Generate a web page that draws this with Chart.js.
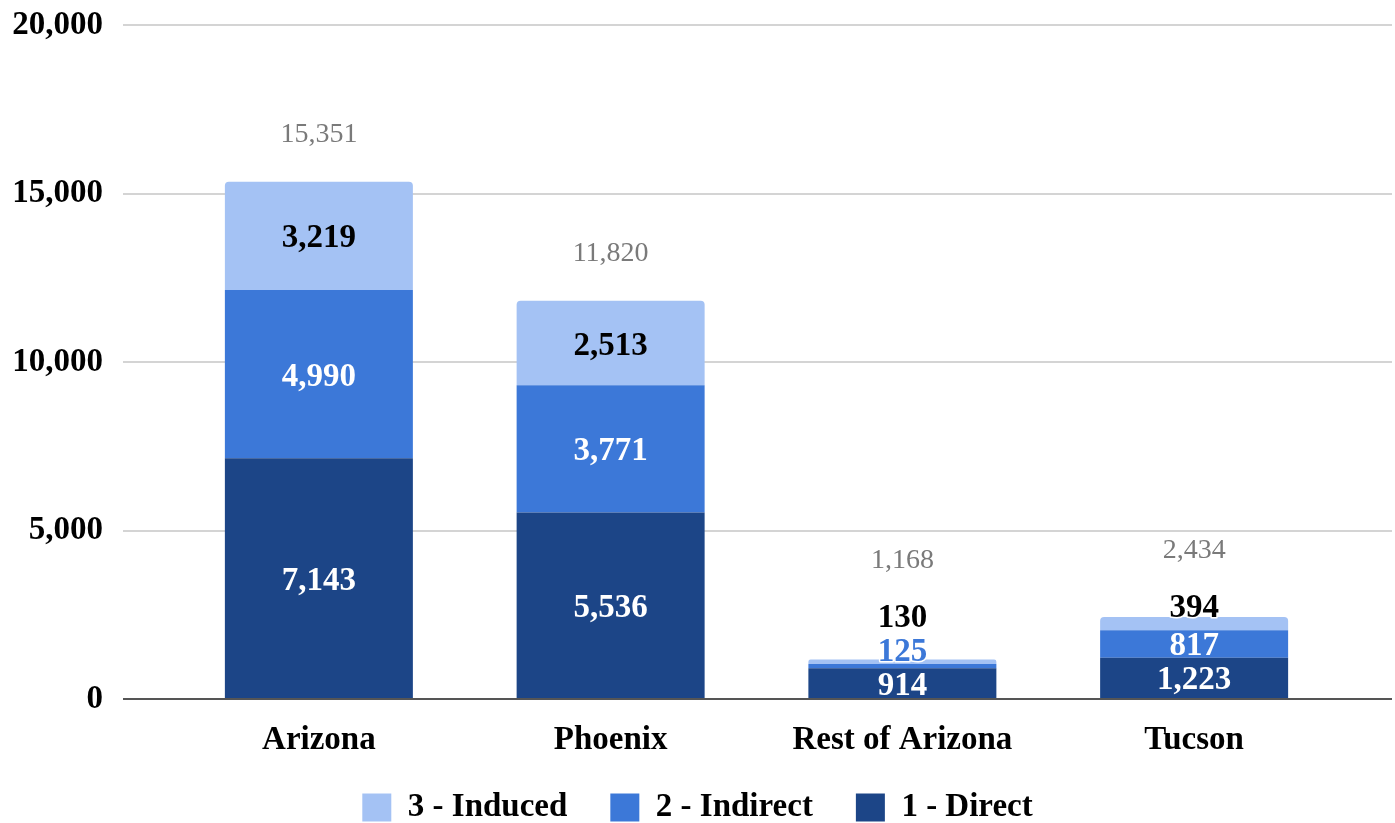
<!DOCTYPE html>
<html>
<head>
<meta charset="utf-8">
<script src="https://cdn.jsdelivr.net/npm/chart.js@4.4.1/dist/chart.umd.min.js"></script>
<style>
html,body{margin:0;padding:0;background:#fff;}
#wrap{width:1395px;height:823px;position:relative;}
</style>
</head>
<body>
<div id="wrap"><canvas id="c"></canvas></div>
<script>
const categories = ['Arizona', 'Phoenix', 'Rest of Arizona', 'Tucson'];
const direct   = [7143, 5536, 914, 1223];
const indirect = [4990, 3771, 125, 817];
const induced  = [3219, 2513, 130, 394];
const totals   = [15351, 11820, 1168, 2434];
const seriesNames = ['1 - Direct', '2 - Indirect', '3 - Induced'];
const yTicks = [0, 5000, 10000, 15000, 20000];

const FONT = "'Liberation Serif', 'Times New Roman', serif";
const COLORS = ['#1c4587', '#3c78d8', '#a4c2f4'];
const LABEL_COLORS = ['#ffffff', '#ffffff', '#000000'];
const fmt = v => v.toLocaleString('en-US');

const gridColor = ctx => (ctx.tick && ctx.tick.value === 0) ? '#555555' : '#d4d4d4';

const labelPlugin = {
  id: 'segLabels',
  afterDatasetsDraw(chart) {
    const ctx = chart.ctx;
    const nDs = chart.data.datasets.length;
    const gap = 34;
    const shift = 3;
    ctx.save();
    ctx.textAlign = 'center';
    ctx.textBaseline = 'middle';
    chart.data.labels.forEach((lab, i) => {
      let prevY = Infinity;
      let barTop = Infinity;
      for (let d = 0; d < nDs; d++) {
        const el = chart.getDatasetMeta(d).data[i];
        const h = Math.abs(el.base - el.y);
        barTop = Math.min(barTop, el.y);
        let y = (el.y + el.base) / 2;
        if (d === nDs - 1 && h < 24) y = Math.min(y, el.y - 12);
        y = Math.min(y, prevY - gap);
        const displaced = Math.abs(y - (el.y + el.base) / 2) > 6;
        let color = LABEL_COLORS[d];
        if (displaced && d < nDs - 1) color = COLORS[d];
        ctx.font = 'bold 33px ' + FONT;
        const txt = fmt(chart.data.datasets[d].data[i]);
        if (h < 40 && color !== '#ffffff') {
          ctx.lineWidth = 3;
          ctx.strokeStyle = '#ffffff';
          ctx.lineJoin = 'round';
          ctx.strokeText(txt, el.x, y + shift);
        }
        ctx.fillStyle = color;
        ctx.fillText(txt, el.x, y + shift);
        prevY = y;
      }
      const x = chart.getDatasetMeta(0).data[i].x;
      const ty = Math.min(barTop - 47, prevY - 54);
      ctx.font = '28px ' + FONT;
      ctx.fillStyle = '#7a7a7a';
      ctx.fillText(fmt(totals[i]), x, ty);
    });
    ctx.restore();
  }
};

const datasets = [direct, indirect, induced].map((arr, k) => ({
  label: seriesNames[k],
  data: arr,
  backgroundColor: COLORS[k],
  borderWidth: 0,
  borderRadius: 4,
  borderSkipped: 'start',
  barPercentage: 188 / 291.75,
  categoryPercentage: 1.0,
  yAxisID: 'y'
}));

new Chart(document.getElementById('c'), {
  type: 'bar',
  data: { labels: categories, datasets },
  plugins: [labelPlugin],
  options: {
    responsive: true,
    maintainAspectRatio: false,
    animation: false,
    devicePixelRatio: 1,
    layout: { padding: { top: 25, left: 0, right: 0, bottom: -11 } },
    plugins: {
      tooltip: { enabled: false },
      legend: {
        position: 'bottom',
        reverse: true,
        labels: {
          boxWidth: 29,
          boxHeight: 28,
          padding: 43,
          color: '#000000',
          font: { family: FONT, size: 33, weight: 'bold' }
        }
      }
    },
    scales: {
      x: {
        stacked: true,
        grid: { display: false, drawTicks: false },
        border: { display: false },
        ticks: { color: '#000000', padding: 22, font: { family: FONT, size: 33, weight: 'bold' } },
        afterFit(s) { s.height = 49; s._computeLabelArea = function () { return undefined; }; }
      },
      y: {
        stacked: true,
        position: 'left',
        min: 0, max: 20000,
        afterBuildTicks(s) { s.ticks = yTicks.map(v => ({ value: v })); },
        grid: { color: gridColor, tickColor: gridColor, lineWidth: 2, tickLength: 50, drawTicks: true },
        border: { display: false },
        ticks: { color: '#000000', padding: 20, font: { family: FONT, size: 33, weight: 'bold' },
                 callback: v => fmt(v) },
        afterFit(s) { s.width = 173; s.paddingTop = 0; s.paddingBottom = 0; }
      },
      y2: {
        position: 'right',
        min: 0, max: 20000,
        afterBuildTicks(s) { s.ticks = yTicks.map(v => ({ value: v })); },
        grid: { color: gridColor, tickColor: gridColor, lineWidth: 2, tickLength: 52, drawTicks: true, drawOnChartArea: false },
        border: { display: false },
        ticks: { display: false },
        afterFit(s) { s.width = 55; s.paddingTop = 0; s.paddingBottom = 0; }
      }
    }
  }
});
</script>
</body>
</html>
